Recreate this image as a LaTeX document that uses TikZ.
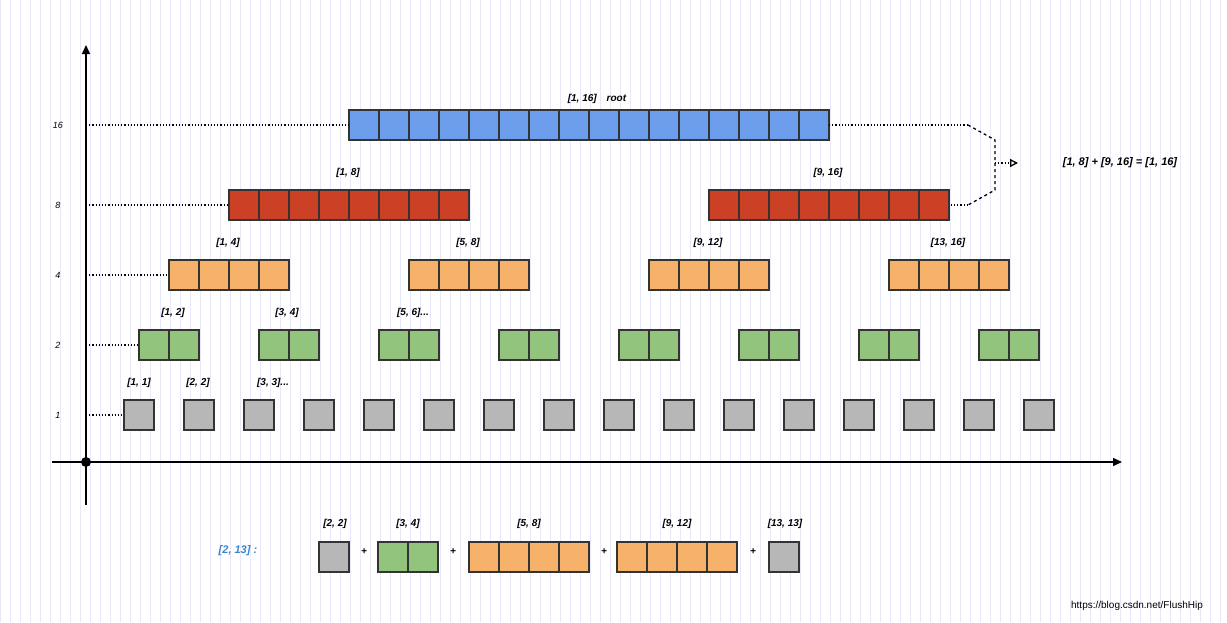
\documentclass[tikz,border=0pt]{standalone}
\usepackage{fontspec}
\setmainfont{Liberation Sans}
\usetikzlibrary{arrows.meta}
\definecolor{cb}{HTML}{6D9EEB}\definecolor{cr}{HTML}{CC4125}
\definecolor{co}{HTML}{F6B26B}\definecolor{cg}{HTML}{93C47D}
\definecolor{cy}{HTML}{B7B7B7}\definecolor{grid}{HTML}{E8E8F8}
\definecolor{lbl}{HTML}{3A87D0}
\begin{document}
\begin{tikzpicture}[x=1pt,y=-1pt,
  cell/.style={draw=black!80,line width=1.3pt},
  lab/.style={font=\fontsize{10}{12}\selectfont\itshape\bfseries,inner sep=1pt},
  dot/.style={dotted,line width=1.2pt}]
\useasboundingbox (0,0) rectangle (1227,622);
\fill[white] (0,0) rectangle (1227,622);
\draw[grid,line width=0.5pt,step=10] (0,0) grid (1227,622);
% boxes
\newcommand{\rowbox}[5]{% x, y, ncells, color, name
  \foreach \c in {1,...,#3}{\draw[cell,fill=#4] ({#1+30*(\c-1)},#2) rectangle ({#1+30*\c},#2+30);}
  \coordinate (#5) at (#1,#2+15);}
\rowbox{349}{110}{16}{cb}{b1}
\coordinate (b1r) at (829,125);
\rowbox{229}{190}{8}{cr}{r1}
\rowbox{709}{190}{8}{cr}{r2}
\coordinate (r2r) at (949,205);
\foreach \i in {0,...,3}{\rowbox{169+240*\i}{260}{4}{co}{o\i}}
\foreach \i in {0,...,7}{\rowbox{139+120*\i}{330}{2}{cg}{g\i}}
\foreach \i in {0,...,15}{\rowbox{124+60*\i}{400}{1}{cy}{y\i}}
% axes
\coordinate (O) at (86,462);
\coordinate (ytop) at (86,45); \coordinate (ybot) at (86,505);
\coordinate (xl) at (52,462); \coordinate (xr) at (1122,462);
\draw[line width=1.5pt,-{Triangle[length=9pt,width=8pt]}] (ybot) -- (ytop);
\draw[line width=1.5pt,-{Triangle[length=9pt,width=8pt]}] (xl) -- (xr);
\fill (O) circle (5);
% level labels and dotted
\foreach \l/\yy/\n in {16/125/b1,8/205/r1,4/275/o0,2/345/g0,1/415/y0}{
  \node[lab,font=\fontsize{9}{11}\selectfont\itshape] (L\l) at (58,\yy) {\l};
  \coordinate (A\l) at (86,\yy);
  \draw[dot] (A\l) -- (\n);}
% box labels
\node[lab] (tb) at (597,99) {[1, 16]\quad root};
\node[lab] at (348,173) {[1, 8]}; \node[lab] at (828,173) {[9, 16]};
\node[lab] at (228,243) {[1, 4]}; \node[lab] at (468,243) {[5, 8]};
\node[lab] at (708,243) {[9, 12]}; \node[lab] at (948,243) {[13, 16]};
\node[lab] at (173,313) {[1, 2]}; \node[lab] at (287,313) {[3, 4]};
\node[lab] at (413,313) {[5, 6]...};
\node[lab] at (139,383) {[1, 1]}; \node[lab] at (198,383) {[2, 2]};
\node[lab] at (273,383) {[3, 3]...};
% merge connector
\coordinate (c1) at (968,125); \coordinate (c2) at (995,140);
\coordinate (c3) at (995,190); \coordinate (c4) at (968,205);
\coordinate (cm) at (995,163); \coordinate (ce) at (1018,163);
\draw[dot] (b1r) -- (c1);
\draw[dashed,line width=1.3pt] (c1) -- (c2) -- (c3) -- (c4);
\draw[dot] (c4) -- (r2r);
\draw[dot,-{Triangle[open,length=8pt,width=8pt,line width=1.3pt]}] (cm) -- (ce);
\node[lab,font=\fontsize{11}{13}\selectfont\itshape\bfseries] (eq) at (1120,163) {[1, 8] + [9, 16] = [1, 16]};
% bottom query
\node[lab,font=\fontsize{11}{13}\selectfont\itshape\bfseries,text=lbl] (q) at (238,551) {[2, 13] :};
\rowbox{319}{542}{1}{cy}{q1}
\rowbox{378}{542}{2}{cg}{q2}
\rowbox{469}{542}{4}{co}{q3}
\rowbox{617}{542}{4}{co}{q4}
\rowbox{769}{542}{1}{cy}{q5}
\foreach \xx in {364,453,604,753}{\node[lab] at (\xx,552) {+};}
\node[lab] at (335,524) {[2, 2]}; \node[lab] at (408,524) {[3, 4]};
\node[lab] at (529,524) {[5, 8]}; \node[lab] at (677,524) {[9, 12]};
\node[lab] at (785,524) {[13, 13]};
\node[font=\fontsize{10}{12}\selectfont,inner sep=0pt] (wm) at (1137,606) {https://blog.csdn.net/FlushHip};
\end{tikzpicture}
\end{document}
